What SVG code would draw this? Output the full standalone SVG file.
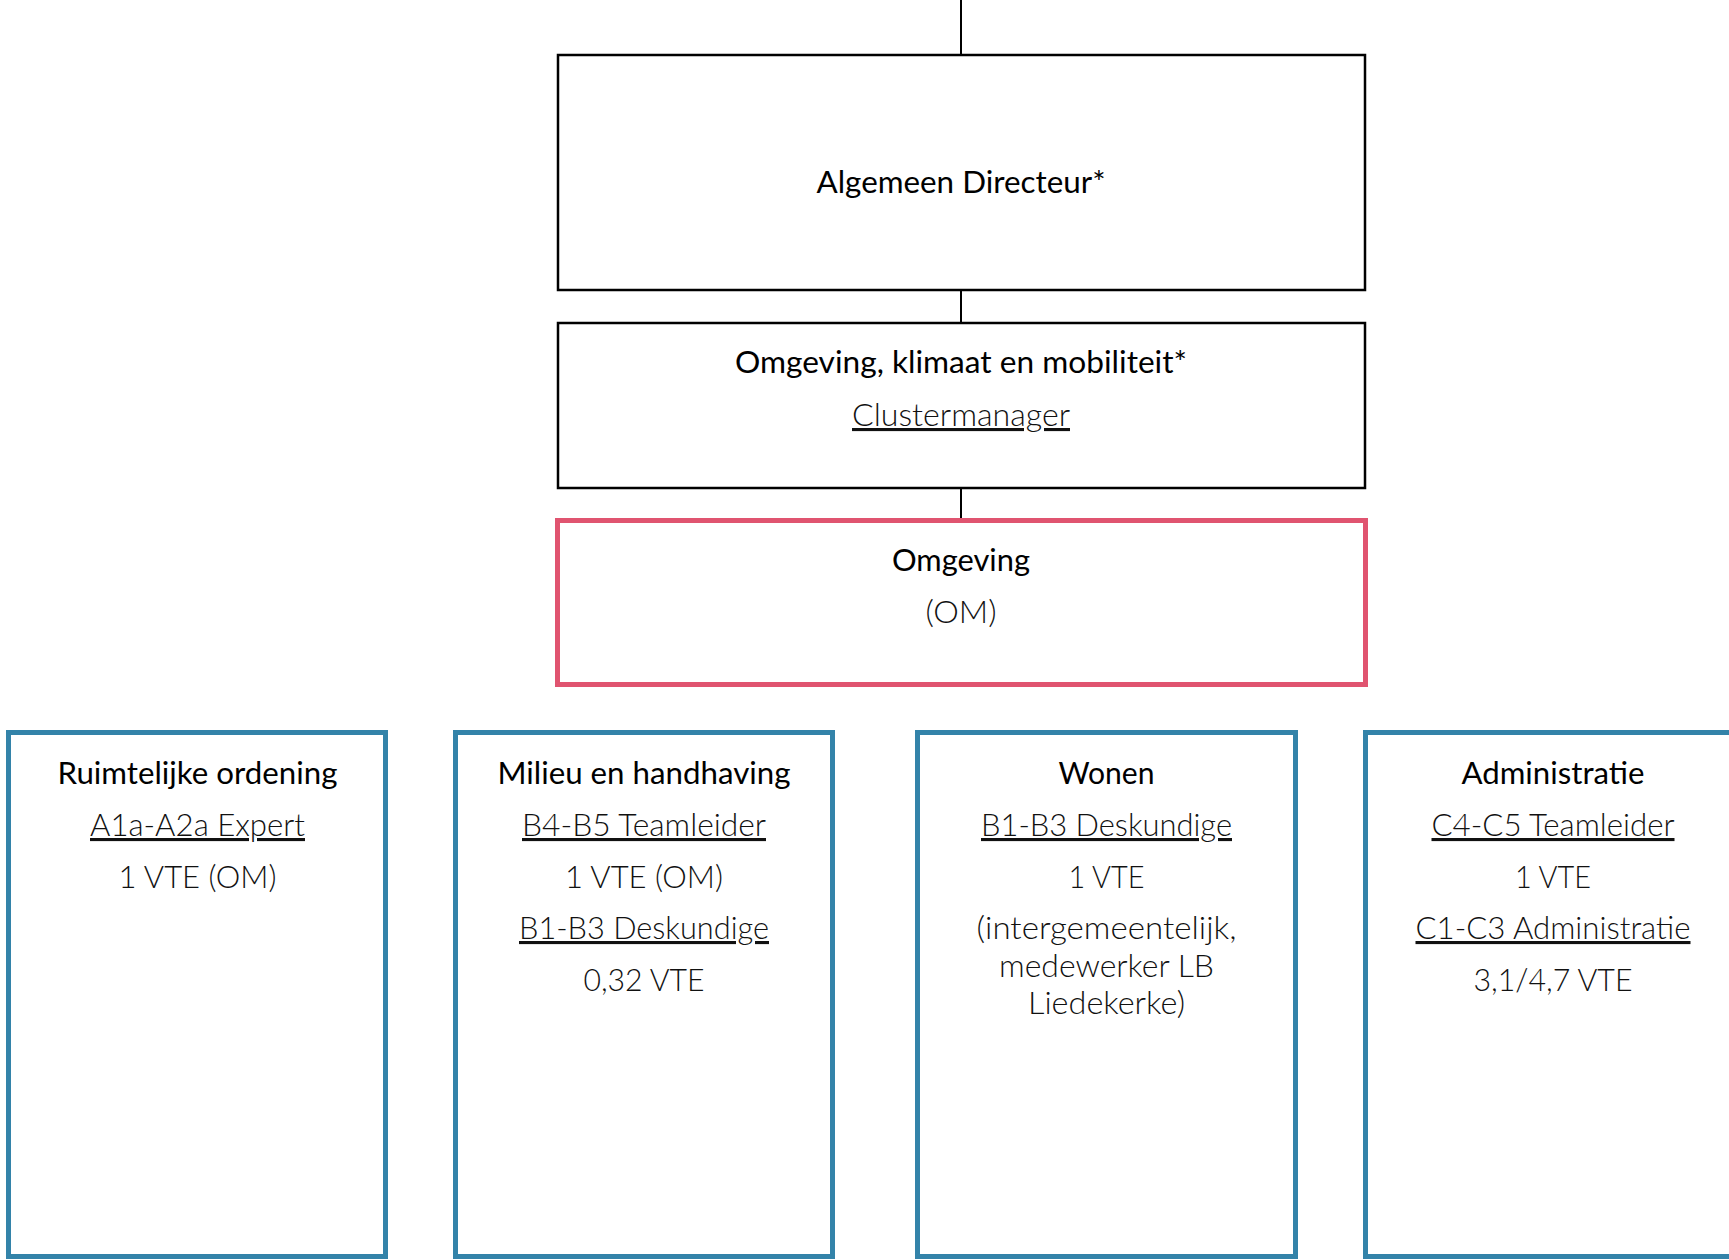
<svg xmlns="http://www.w3.org/2000/svg" width="1729" height="1260" viewBox="0 0 1729 1260">
<style>
.bk{fill:#fff;stroke:#000;stroke-width:2.5}
.pk{fill:#fff;stroke:#E05470;stroke-width:5}
.bl{fill:#fff;stroke:#3383A9;stroke-width:5}
.con{stroke:#000;stroke-width:2;fill:none}
text{font-family:Lato,"Open Sans","Liberation Sans",sans-serif;font-size:31px;text-anchor:middle;fill:#000}
.h{font-weight:400}
.t{font-weight:300;fill:#111}
.u{text-decoration:underline}
</style>
<rect width="1729" height="1260" fill="#fff"/>
<g id="connectors">
<line class="con" x1="961" y1="0" x2="961" y2="55"/>
<line class="con" x1="961" y1="290" x2="961" y2="323"/>
<line class="con" x1="961" y1="488" x2="961" y2="520"/>
</g>
<g id="n-directeur">
<rect class="bk" x="558" y="55" width="807" height="235"/>
<text class="h" x="961" y="193" textLength="289" lengthAdjust="spacingAndGlyphs">Algemeen Directeur*</text>
</g>
<g id="n-cluster">
<rect class="bk" x="558" y="323" width="807" height="165"/>
<text class="h" x="961" y="373" textLength="452" lengthAdjust="spacingAndGlyphs">Omgeving, klimaat en mobiliteit*</text>
<text class="t u" x="961" y="426" textLength="218" lengthAdjust="spacingAndGlyphs">Clustermanager</text>
</g>
<g id="n-omgeving">
<rect class="pk" x="557.5" y="520.5" width="808" height="164"/>
<text class="h" x="961" y="571" textLength="138" lengthAdjust="spacingAndGlyphs">Omgeving</text>
<text class="t" x="961" y="623" textLength="71" lengthAdjust="spacingAndGlyphs">(OM)</text>
</g>
<g id="n-ro">
<rect class="bl" x="8.5" y="732.5" width="377" height="524"/>
<text class="h" x="197.5" y="784" textLength="280" lengthAdjust="spacingAndGlyphs">Ruimtelijke ordening</text>
<text class="t u" x="197.5" y="836" textLength="215" lengthAdjust="spacingAndGlyphs">A1a-A2a Expert</text>
<text class="t" x="197.5" y="888" textLength="158" lengthAdjust="spacingAndGlyphs">1 VTE (OM)</text>
</g>
<g id="n-milieu">
<rect class="bl" x="455.5" y="732.5" width="377" height="524"/>
<text class="h" x="644" y="784" textLength="293" lengthAdjust="spacingAndGlyphs">Milieu en handhaving</text>
<text class="t u" x="644" y="836" textLength="244" lengthAdjust="spacingAndGlyphs">B4-B5 Teamleider</text>
<text class="t" x="644" y="888" textLength="158" lengthAdjust="spacingAndGlyphs">1 VTE (OM)</text>
<text class="t u" x="644" y="939" textLength="250" lengthAdjust="spacingAndGlyphs">B1-B3 Deskundige</text>
<text class="t" x="644" y="991" textLength="121" lengthAdjust="spacingAndGlyphs">0,32 VTE</text>
</g>
<g id="n-wonen">
<rect class="bl" x="917.5" y="732.5" width="378" height="524"/>
<text class="h" x="1106.5" y="784" textLength="96" lengthAdjust="spacingAndGlyphs">Wonen</text>
<text class="t u" x="1106.5" y="836" textLength="251" lengthAdjust="spacingAndGlyphs">B1-B3 Deskundige</text>
<text class="t" x="1106.5" y="888" textLength="76" lengthAdjust="spacingAndGlyphs">1 VTE</text>
<text class="t" x="1106.5" y="939" textLength="260" lengthAdjust="spacingAndGlyphs">(intergemeentelijk,</text>
<text class="t" x="1106.5" y="977" textLength="215" lengthAdjust="spacingAndGlyphs">medewerker LB</text>
<text class="t" x="1106.5" y="1014" textLength="157" lengthAdjust="spacingAndGlyphs">Liedekerke)</text>
</g>
<g id="n-admin">
<rect class="bl" x="1365.5" y="732.5" width="377" height="524"/>
<text class="h" x="1553" y="784" textLength="183" lengthAdjust="spacingAndGlyphs">Administratie</text>
<text class="t u" x="1553" y="836" textLength="243" lengthAdjust="spacingAndGlyphs">C4-C5 Teamleider</text>
<text class="t" x="1553" y="888" textLength="76" lengthAdjust="spacingAndGlyphs">1 VTE</text>
<text class="t u" x="1553" y="939" textLength="275" lengthAdjust="spacingAndGlyphs">C1-C3 Administratie</text>
<text class="t" x="1553" y="991" textLength="159" lengthAdjust="spacingAndGlyphs">3,1/4,7 VTE</text>
</g>
</svg>
